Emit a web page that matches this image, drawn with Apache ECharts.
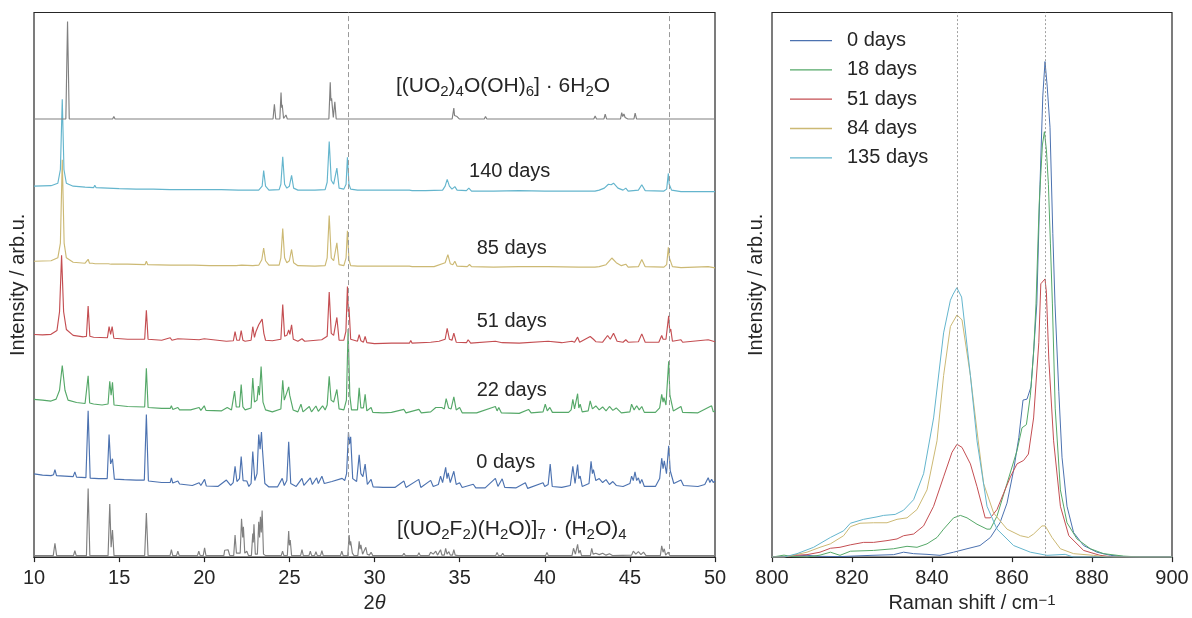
<!DOCTYPE html>
<html>
<head>
<meta charset="utf-8">
<script src="https://cdn.jsdelivr.net/npm/echarts@6/dist/echarts.min.js"></script>
<style>
html,body{margin:0;padding:0;background:#fff;}
#c{width:1192px;height:618px;}
</style>
</head>
<body>
<div id="c"></div>
<script>
// ---------------- DATA ----------------
// XRD: [2theta, intensity (arb., offset)]
const xrdRefUO2F2 = [[10,1.5],[11.13,1.5],[11.23,14],[11.33,1.5],[12.32,1.5],[12.4,6.5],[12.48,1.5],[13.08,1.5],[13.18,70],[13.28,1.5],[14.35,1.5],[14.45,54],[14.53,10],[14.61,27.5],[14.7,1.5],[16.5,1.5],[16.6,45],[16.7,1.5],[17.1,1.5],[17.15,3],[17.2,1.5],[17.99,1.5],[18.07,7.5],[18.15,1.5],[18.37,1.5],[18.45,6],[18.53,1.5],[19.6,1.5],[19.68,6],[19.76,1.5],[19.94,1.5],[20.02,9.5],[20.1,1.5],[21.15,1.5],[21.2,7],[21.3,6],[21.4,7.5],[21.5,1.5],[21.73,1.5],[21.81,22.5],[21.89,4],[22.11,4],[22.19,39],[22.26,20],[22.3,31],[22.38,4],[22.5,6],[22.6,1.5],[22.77,1.5],[22.85,24],[22.88,15],[22.92,33.5],[23.0,3],[23.12,3],[23.2,36],[23.25,20],[23.3,41],[23.35,25],[23.4,47.5],[23.48,3],[23.6,1.5],[24.52,1.5],[24.6,6],[24.68,1.5],[24.88,1.5],[24.96,26.5],[25.0,12],[25.05,17.5],[25.13,1.5],[25.66,1.5],[25.74,7.5],[25.82,1.5],[26.15,1.5],[26.23,6],[26.31,1.5],[26.48,1.5],[26.56,5.5],[26.64,1.5],[26.83,1.5],[26.91,6.5],[26.99,1.5],[27.26,1.5],[27.34,3.5],[27.42,1.5],[28.0,1.5],[28.08,6],[28.16,1.5],[28.43,1.5],[28.51,22.5],[28.56,12],[28.6,16],[28.7,4],[28.8,1.5],[29.02,1.5],[29.1,16],[29.15,8],[29.2,12.5],[29.3,3],[29.4,3],[29.49,10],[29.57,3],[29.7,2],[29.8,5],[29.9,1.5],[30.5,1.5],[31.65,1.5],[31.73,4],[31.81,1.5],[32.53,1.5],[32.61,4.5],[32.69,1.5],[33.2,1.5],[33.3,5],[33.45,3],[33.6,6],[33.7,2],[33.8,2],[33.88,7.5],[33.96,2],[34.1,2],[34.18,9],[34.26,3],[34.37,5.5],[34.45,2],[34.58,2],[34.66,7.5],[34.74,2],[34.9,1.5],[35.0,3.5],[35.1,1.5],[37.12,1.5],[37.2,4.8],[37.28,1.5],[37.45,1.5],[37.53,4],[37.61,1.5],[38.78,1.5],[38.86,3.5],[38.94,1.5],[40.05,1.5],[40.13,4.8],[40.21,1.5],[40.34,1.5],[40.42,3.5],[40.5,1.5],[41.6,1.5],[41.69,9],[41.8,3],[41.93,13],[42.0,4],[42.08,7],[42.16,1.5],[42.68,1.5],[42.76,9],[42.84,3],[43.0,4],[43.2,2.5],[43.4,4],[43.6,2],[43.8,3.5],[44.0,1.5],[45.1,2],[45.2,6],[45.35,3],[45.5,5.5],[45.65,2.5],[45.8,5],[45.95,1.5],[46.79,1.5],[46.87,11.5],[46.95,5],[47.02,8.5],[47.1,2],[47.26,5],[47.34,1.5],[48.5,1.5],[49.62,1.5],[49.7,3.5],[49.78,1.5],[50,1.5]];

const xrd0d = [[10,84.8],[10.5,83.5],[11.0,83],[11.15,84],[11.23,89.2],[11.32,83],[11.8,82.5],[12.3,82],[12.4,86.8],[12.5,81.5],[13.05,81],[13.18,149.2],[13.3,80.5],[13.8,80],[14.3,80],[14.41,124.8],[14.5,95],[14.61,100.2],[14.72,79.5],[15.3,79],[16.0,78.5],[16.48,78.5],[16.6,145.2],[16.72,77.5],[17.5,76],[18.0,76],[18.07,80.8],[18.15,75.5],[18.45,77.5],[18.55,74.5],[19.3,73],[19.7,75.8],[19.8,73],[20.02,79.2],[20.12,72.5],[20.8,72],[21.3,78.5],[21.55,73],[21.7,76],[21.81,92.5],[21.92,77],[22.07,80],[22.17,102.5],[22.28,78],[22.5,77.5],[22.62,72],[22.75,75],[22.85,107.5],[22.97,78],[23.1,85],[23.2,124.8],[23.28,110],[23.36,127.5],[23.41,112],[23.45,110.8],[23.56,75],[23.8,71.5],[24.3,71.5],[24.58,80.2],[24.7,73],[24.85,78],[24.96,117.5],[25.08,75],[25.4,72],[25.74,80.2],[25.85,73],[26.23,80.8],[26.35,74],[26.6,80.8],[26.7,75],[26.91,82.5],[27.05,75],[27.5,77],[28.1,80.2],[28.25,78],[28.36,85],[28.47,127.5],[28.53,115],[28.6,122.5],[28.72,80],[28.95,77],[29.1,104.2],[29.2,85],[29.32,82],[29.45,94.8],[29.58,74],[29.8,79.2],[29.92,71.5],[30.5,71],[31.2,71],[31.73,77.5],[31.85,71],[32.6,79.2],[32.72,71],[33.3,78.2],[33.45,72],[33.75,74],[33.88,82.5],[34.0,76],[34.18,91.5],[34.26,80],[34.33,85.8],[34.45,76],[34.66,87.5],[34.8,74],[35.0,75.8],[35.15,71],[35.8,74.2],[35.95,70.5],[36.5,70.5],[37.1,80.2],[37.25,72],[37.5,79.8],[37.65,71],[38.3,70.5],[38.86,75.8],[39.0,70],[39.9,75.8],[40.0,72],[40.2,74],[40.32,94.8],[40.44,72],[41.0,71],[41.5,73],[41.65,92.5],[41.78,75],[41.93,94.2],[42.0,80],[42.08,82.5],[42.2,72],[42.6,75],[42.72,97.5],[42.8,85],[42.86,89.2],[43.0,78],[43.2,80],[43.4,76],[43.6,79],[43.8,74],[44.0,77],[44.2,73],[44.6,72],[45.0,75],[45.1,82.5],[45.2,78],[45.3,86.8],[45.4,78],[45.5,80.8],[45.6,75],[45.7,79.2],[45.85,72],[46.5,72],[46.75,80],[46.87,100.8],[46.95,90],[47.02,98.2],[47.15,85],[47.28,113.5],[47.37,88],[47.45,87.5],[47.58,75],[48.0,78.5],[48.15,73],[49.0,72],[49.4,74],[49.6,80.8],[49.7,76],[49.8,79.2],[49.9,76],[50,77.5]];

const xrd22d = [[10,160.8],[10.5,160],[11.0,159],[11.3,161],[11.5,170],[11.66,195.2],[11.82,170],[12.0,160],[12.5,157.5],[13.0,156.5],[13.1,158],[13.18,184.8],[13.27,157],[13.5,156],[14.0,155],[14.35,156],[14.45,179.2],[14.53,165],[14.61,178.2],[14.7,155],[15.5,153.5],[16.5,153],[16.6,192.5],[16.7,152.5],[17.5,151.5],[18.0,151.5],[18.07,154.2],[18.15,150.5],[18.45,152.5],[18.55,150],[19.2,150],[19.7,152.5],[19.8,149.5],[20.0,154.2],[20.1,149.5],[21.0,149],[21.35,152.5],[21.6,150],[21.7,152],[21.78,169.2],[21.88,153],[22.07,153],[22.17,175.8],[22.27,153],[22.4,150],[22.75,152],[22.85,182.5],[22.95,158],[23.1,160],[23.18,174.2],[23.24,165],[23.34,194.2],[23.45,158],[23.6,150],[24.0,148],[24.5,151],[24.61,180.2],[24.7,160],[24.96,173.5],[25.02,165],[25.1,164.2],[25.22,150],[25.5,148],[25.68,155.8],[25.8,148],[26.17,153.5],[26.3,148],[26.56,154],[26.7,148.5],[26.95,154.2],[27.1,150],[27.22,155],[27.34,184.2],[27.45,160],[27.6,158],[27.79,170.8],[27.92,151],[28.2,150],[28.35,160],[28.45,232.5],[28.55,165],[28.65,150],[29.0,150],[29.1,172.5],[29.2,152],[29.35,152],[29.45,165.8],[29.55,149],[29.8,152.5],[29.9,147.5],[30.5,147],[31.0,147.5],[31.73,150.5],[31.85,147],[32.61,150.5],[32.75,147],[33.3,148],[33.6,152.5],[33.95,152.5],[34.1,151],[34.21,161.5],[34.35,152],[34.5,151],[34.66,163.2],[34.8,150],[35.0,152.5],[35.15,147],[36,147],[37.1,153.5],[37.2,149],[37.3,152.5],[37.45,147],[38.5,146.5],[39.05,150.5],[39.2,147],[39.9,148],[40.03,155.8],[40.15,149],[40.3,152.5],[40.45,147.5],[41.4,147.5],[41.55,150],[41.65,160.8],[41.75,151],[41.93,166.5],[42.0,152],[42.08,155.8],[42.2,148],[42.55,149],[42.67,159.2],[42.8,151],[43.0,154],[43.2,150],[43.4,153],[43.6,149],[43.8,153.5],[44.0,149.5],[44.2,152],[44.5,147],[45.0,148],[45.1,155.8],[45.25,150],[45.4,154.2],[45.55,150],[45.7,153.5],[45.85,147.5],[46.5,147.5],[46.75,152],[46.87,165.8],[46.95,158],[47.0,162.5],[47.12,155],[47.28,199.5],[47.35,165],[47.42,164.5],[47.55,149],[48.0,153.5],[48.1,147.5],[49.0,147],[49.8,154.2],[49.9,148],[50,149]];

const xrd51d = [[10,226.8],[10.5,226.5],[11.0,227],[11.35,231],[11.5,250],[11.62,307.5],[11.74,250],[11.9,232],[12.3,226],[12.9,224.5],[13.08,225],[13.18,255.8],[13.28,225],[13.5,224],[14.31,223.5],[14.41,234.8],[14.5,227],[14.59,234.8],[14.69,223],[15.5,222],[16.5,222],[16.6,251.5],[16.7,222],[17.5,221],[18.0,223.5],[18.1,221],[18.45,222.5],[18.55,220.5],[19.7,221.5],[20.0,222.5],[20.1,220.5],[21.3,220],[21.71,220.5],[21.81,229.8],[21.91,221],[22.07,221],[22.17,230.8],[22.27,221],[22.4,220],[22.75,221],[22.85,234.8],[22.95,224],[23.04,230],[23.2,236.8],[23.28,235],[23.4,242.5],[23.5,228],[23.6,221],[24.0,220.5],[24.5,222],[24.61,257.5],[24.72,225],[24.85,226],[24.96,231.5],[25.03,227],[25.13,236.8],[25.23,222],[25.5,220],[25.74,222.5],[25.9,220],[26.23,220.5],[26.9,221.5],[27.22,225],[27.34,270.2],[27.46,228],[27.6,226],[27.79,244.2],[27.92,221],[28.2,221],[28.32,230],[28.41,275.8],[28.46,250],[28.5,255],[28.6,222],[29.0,220],[29.1,226.8],[29.2,220.5],[29.35,219],[29.45,224.8],[29.55,218.5],[30,217.5],[31,218],[32.05,218],[32.13,220.8],[32.21,218],[33.3,219],[33.79,220],[34.15,222],[34.27,233.2],[34.4,222],[34.55,221],[34.66,228.2],[34.8,219],[35.4,218.5],[35.5,221.5],[35.65,218],[37.1,220],[37.5,218.5],[38.5,218],[40.2,220],[41,218.5],[41.6,220],[41.65,221],[41.75,219],[41.93,224.2],[42.05,219],[42.67,224.8],[42.86,222],[43,219.5],[43.4,219],[43.69,225.8],[43.85,222],[44.04,228.2],[44.25,220],[44.6,219],[44.76,221.5],[44.9,219],[45.5,219.5],[45.7,227.5],[45.9,219],[46.7,219],[46.87,225.8],[46.95,222],[47.0,223.5],[47.12,222],[47.28,245.8],[47.34,230],[47.4,232.5],[47.5,220],[48,221.5],[48.1,219],[49.6,221.5],[50,219.5]];

const xrd85d = [[10,301.5],[11.0,302],[11.4,305],[11.55,320],[11.66,405],[11.77,320],[11.9,305],[12.3,300.5],[13.0,299.5],[13.1,300],[13.18,303.5],[13.26,299.5],[13.43,299.5],[13.51,301],[13.59,299],[14.37,299],[14.45,300],[14.53,298.5],[15.5,298.5],[16.52,298],[16.6,301.5],[16.68,298],[18,297.5],[18.07,298.5],[18.14,297.5],[19.39,297.5],[19.46,298],[20.3,297],[21.87,297],[22.2,297.5],[22.85,297],[23.2,297.5],[23.38,303],[23.49,315],[23.6,302],[23.8,297.5],[24.4,297.5],[24.5,305],[24.61,334.8],[24.72,305],[24.85,300],[25.0,302],[25.13,313.5],[25.25,300],[25.5,297],[26.5,296.5],[27.1,297],[27.22,305],[27.34,348.2],[27.46,305],[27.6,302],[27.79,320.2],[27.92,298],[28.2,297],[28.33,305],[28.41,332.5],[28.5,303],[28.6,297],[29,296.5],[30,296.5],[31,296.5],[32.05,296.5],[32.13,297.5],[32.21,296],[33.5,296],[34.15,300],[34.31,308.2],[34.45,299],[34.6,298],[34.72,301.5],[34.85,296.5],[35.45,296],[35.58,298.2],[35.7,296],[37,295.5],[38.47,296],[40.2,296],[42,295.5],[42.95,295.5],[43.06,297],[43.2,296],[43.6,298],[43.94,304.8],[44.2,300],[44.5,297],[44.76,298.5],[44.9,295.5],[45.5,296],[45.7,303.2],[45.9,296],[47.0,295.5],[47.16,298],[47.26,315.8],[47.32,305],[47.4,306],[47.5,296],[48,295],[49.6,296],[50,294.8]];

const xrd140d = [[10,378],[11.0,378.5],[11.4,381],[11.55,395],[11.66,466.5],[11.76,395],[11.9,381],[12.3,378],[13.0,377],[13.5,376.5],[13.57,379],[13.65,376.5],[15,375.5],[16,375],[17,375],[18,374.5],[20,374.5],[21,374.5],[22,374],[23.2,374],[23.4,378],[23.49,394],[23.6,378],[23.8,374],[24.4,374.5],[24.5,380],[24.61,408],[24.72,380],[24.85,376],[25.0,378],[25.13,389],[25.25,376],[25.5,374],[26,374],[26.5,374],[27.1,374.5],[27.22,382],[27.34,423.5],[27.46,384],[27.6,380],[27.79,396.5],[27.92,376],[28.2,375],[28.33,380],[28.41,407.5],[28.5,380],[28.6,375],[29.0,374],[30,374],[31,374],[31.1,375.5],[31.2,374],[32.05,374],[32.13,375.5],[32.21,373.5],[33,373.5],[34.0,374],[34.15,378],[34.27,385],[34.4,378],[34.55,375],[34.72,377.5],[34.85,374],[35.4,373.5],[35.54,376],[35.7,373],[37,373],[38.5,373.5],[40,373],[42,373],[42.95,373],[43.06,375],[43.2,374],[43.5,376],[43.74,380],[43.9,379.5],[44.04,381],[44.3,376],[44.6,374],[44.76,376],[44.9,373],[45.5,374],[45.7,379.5],[45.9,373.5],[47.0,373],[47.16,375],[47.26,391],[47.31,380],[47.35,381],[47.45,374],[48,372.5],[49.5,372.5],[49.6,374],[49.7,372.5],[50,372.5]];

const xrdRefSchoepite = [[10,446.5],[11.87,446.5],[11.97,545.8],[12.07,446.5],[14.62,446.5],[14.69,449],[14.76,446.5],[17.2,446.5],[17.28,447.5],[17.36,446.5],[24.04,446.5],[24.12,461.5],[24.2,446.5],[24.44,446.5],[24.51,473.5],[24.55,458],[24.58,461],[24.66,447],[24.74,447],[24.8,450.5],[24.88,446.5],[27.32,446.5],[27.4,484],[27.44,465],[27.48,467.5],[27.58,448],[27.67,464],[27.75,446.5],[30.1,446.5],[30.17,448],[30.24,446.5],[34.56,446.5],[34.66,457.5],[34.7,450],[34.75,451.5],[34.85,449],[34.9,449.5],[34.98,446.5],[36.45,446.5],[36.52,449],[36.6,446.5],[38.4,446.5],[38.47,447.5],[38.54,446.5],[42.88,446.5],[42.96,449.5],[43.04,446.5],[43.48,446.5],[43.55,451.5],[43.63,446.5],[44.45,446.5],[44.52,453],[44.58,449],[44.65,451.5],[44.72,448],[44.8,450],[44.88,446.5],[45.24,446.5],[45.31,452.5],[45.39,446.5],[49.42,446.5],[49.5,448.5],[49.58,446.5],[50,446.5]];

// Raman: [shift cm-1, intensity arb.]
const raman0d = [[800,0],[803,0.5],[808.75,1.8],[812,0.8],[817,0.5],[821,1.2],[825,1.8],[830.4,2.5],[832.9,5],[835.4,3.5],[838.75,2.8],[842,1.8],[845.4,5],[848.75,8.5],[852,11.8],[854.6,20],[857,35],[858.75,55],[860.4,88.5],[861.7,121.8],[862.75,160],[863.75,161],[864.75,173.5],[865.5,215],[866.2,258],[867.0,380],[867.7,470],[868.25,505],[868.8,480],[869.5,438],[870.2,330],[870.75,258],[871.7,168.5],[872.5,101.8],[873.75,51.8],[875.4,25],[877.9,11.8],[881.25,5],[884.6,1.8],[889.6,0],[900,0]];
const raman18d = [[800,0],[803,2],[805,0.5],[808.75,0],[812,2],[814.6,5],[817,1.8],[819.6,6],[825.4,6.8],[830.4,8.5],[833.75,11],[836.25,10],[838.75,13.5],[841.25,20],[842.9,28.5],[845.4,40],[847.1,42.5],[848.75,40],[851.25,33.5],[853.75,28.5],[854.6,28.5],[856.25,41.8],[858.75,75],[861.25,108.5],[862.5,131.8],[863.6,135],[864.6,165],[865.4,208.5],[866.0,258],[866.8,360],[867.6,420],[868.1,433.5],[868.6,415],[869.1,380],[869.6,320],[870.1,258],[870.8,151.8],[872.1,68.5],[873.75,35],[876.25,18.5],[879.6,8.5],[882.9,3.5],[887.9,1],[892.5,0],[900,0]];
const raman51d = [[800,0],[803,0],[805.4,1.8],[808.75,2.5],[812,5],[814.6,9],[817,10],[819.6,12.5],[822.9,15],[825.4,15],[828.75,16.8],[831.25,18.5],[832.9,21.8],[835.4,23.5],[837.9,31.8],[840.4,51.8],[842.9,81.8],[845,106.8],[846.25,115],[847.5,111.8],[849.6,95],[851.25,71.8],[853.3,40],[854.6,40],[856.25,48.5],[857.9,65],[859.6,81.8],[861.25,95],[862.9,98.5],[864.1,105],[865.4,141.8],[866.7,218.5],[867.2,278.5],[868.25,283.5],[868.6,270],[869.2,201.8],[870.4,118.5],[872.1,51.8],[874.2,21.8],[877.9,6.8],[882,1.8],[885.4,0],[900,0]];
const raman84d = [[800,0],[803,0],[805.4,2],[808.75,5],[812,10],[814.6,13.5],[817.9,21.8],[819.6,31],[822,34.5],[825.4,35],[828.75,35],[831.25,38.5],[833.75,40],[836.25,48.5],[838.75,68.5],[841.25,118.5],[842.9,185],[844.6,235],[846.25,246.8],[847.5,241.8],[849.6,185],[851.25,128.5],[852.9,75],[855.4,45],[858.75,28.5],[862.1,21.8],[864.1,20],[865.4,23.5],[867.5,31.8],[868.3,31.8],[870,20],[872.1,8.5],[875.4,3.5],[880.4,1.8],[883.75,0],[900,0]];
const raman135d = [[800,0],[803,0],[806.25,3.5],[810.4,10],[814.6,20],[817.9,26.8],[819.6,34.5],[822.9,38.5],[826.25,41],[827.9,42.5],[830.8,43.5],[832.9,47.8],[835.4,58.5],[837.9,85],[840.4,141.8],[842.9,228.5],[844.6,261.8],[845.3,268],[846.2,274.5],[847.4,265],[849.6,185],[851.25,118.5],[853.75,51.8],[856.25,28.5],[860.4,11.8],[864.6,5],[868.75,1.8],[873.3,2.8],[875.4,0],[900,0]];

const ramanNames = ['0 days','18 days','51 days','84 days','135 days'];
const siLines = [28.43, 47.30];
const ramanLines = [846.2, 868.2];

// annotation texts and their anchors in data coordinates [2theta, intensity]
const annotTexts = [
  '{f|[(UO}{s|2}{f|)}{s|4}{f|O(OH)}{s|6}{f|] · 6H}{s|2}{f|O}',
  '{n|140 days}', '{n|85 days}', '{n|51 days}', '{n|22 days}', '{n|0 days}',
  '{f|[(UO}{s|2}{f|F}{s|2}{f|)(H}{s|2}{f|O)]}{s|7}{f| · (H}{s|2}{f|O)}{s|4}'
];
const annotAnchors = [[37.55,479.5],[37.94,393],[38.06,314.7],[38.06,239.7],[38.06,170],[37.71,96.3],[38.06,28.5]];

// ---------------- CHART ----------------
const FONT = '"Liberation Sans", Arial, Helvetica, sans-serif';
const TXT = '#262626';
const chart = echarts.init(document.getElementById('c'), null, {renderer: 'canvas'});

const C = {grey:'#808080', blue:'#4C72B0', green:'#55A868', red:'#C44E52', tan:'#CCB974', cyan:'#64B5CD'};

function lineSeries(name, data, color, axis, width, extra) {
  return Object.assign({
    name: name, type: 'line', xAxisIndex: axis, yAxisIndex: axis, data: data,
    showSymbol: false, symbol: 'none', silent: true, animation: false,
    lineStyle: {color: color, width: width}, itemStyle: {color: color}
  }, extra || {});
}

const richStyles = {
  n: {fontSize: 20, lineHeight: 26, fontFamily: FONT, color: TXT, opacity: 1},
  f: {fontSize: 21, lineHeight: 26, fontFamily: FONT, color: TXT, opacity: 1},
  s: {fontSize: 15, lineHeight: 15, fontFamily: FONT, color: TXT, opacity: 1, verticalAlign: 'bottom'}
};

const option = {
  backgroundColor: '#ffffff',
  animation: false,
  textStyle: {fontFamily: FONT, color: TXT},
  grid: [
    {left: 34, top: 12.5, width: 681, height: 555, show: true, borderColor: TXT, borderWidth: 1.2},
    {left: 772, top: 12.5, width: 400, height: 555, show: true, borderColor: TXT, borderWidth: 1.2}
  ],
  legend: {
    data: ramanNames.map(n => ({name: n, icon: 'rect'})),
    orient: 'vertical', left: 785, top: 25.6, itemGap: 9.3,
    itemWidth: 42, itemHeight: 1.3, selectedMode: false,
    textStyle: {fontSize: 20, lineHeight: 20, color: TXT, fontFamily: FONT, padding: [0,0,0,10]}
  },
  xAxis: [
    {gridIndex: 0, type: 'value', min: 10, max: 50, interval: 5,
     name: '2{i|θ}', nameLocation: 'middle', nameGap: 31,
     nameTextStyle: {fontSize: 20, color: TXT, fontFamily: FONT, rich: {i: {fontSize: 20, fontStyle: 'italic', color: TXT, fontFamily: FONT}}},
     axisLine: {show: true, lineStyle: {color: TXT, width: 1.2}},
     axisTick: {show: true, inside: false, length: 5, lineStyle: {color: TXT, width: 1.2}},
     axisLabel: {fontSize: 20, color: TXT, margin: 11, fontFamily: FONT},
     splitLine: {show: false}},
    {gridIndex: 1, type: 'value', min: 800, max: 900, interval: 20,
     name: 'Raman shift / cm{sup|−1}', nameLocation: 'middle', nameGap: 31,
     nameTextStyle: {fontSize: 20, color: TXT, fontFamily: FONT, rich: {sup: {fontSize: 15, lineHeight: 15, verticalAlign: 'top', color: TXT, fontFamily: FONT}}},
     axisLine: {show: true, lineStyle: {color: TXT, width: 1.2}},
     axisTick: {show: true, inside: false, length: 5, lineStyle: {color: TXT, width: 1.2}},
     axisLabel: {fontSize: 20, color: TXT, margin: 11, fontFamily: FONT},
     splitLine: {show: false}}
  ],
  yAxis: [0, 1].map(i => ({
     gridIndex: i, type: 'value', min: 0, max: 555,
     name: 'Intensity / arb.u.', nameLocation: 'middle', nameGap: 6, nameRotate: 90,
     nameTextStyle: {fontSize: 20, color: TXT, fontFamily: FONT},
     axisLine: {show: false}, axisTick: {show: false}, axisLabel: {show: false}, splitLine: {show: false}})),
  series: [
    lineSeries('XRD ref UO2F2', xrdRefUO2F2, C.grey, 0, 1.15, {
      markLine: {silent: true, symbol: ['none','none'], label: {show: false},
        lineStyle: {type: [5,3], color: '#9a9a9a', width: 1},
        data: siLines.map(v => ({xAxis: v}))}
    }),
    lineSeries('XRD 0 days', xrd0d, C.blue, 0, 1.15),
    lineSeries('XRD 22 days', xrd22d, C.green, 0, 1.15),
    lineSeries('XRD 51 days', xrd51d, C.red, 0, 1.15),
    lineSeries('XRD 85 days', xrd85d, C.tan, 0, 1.15),
    lineSeries('XRD 140 days', xrd140d, C.cyan, 0, 1.15),
    lineSeries('XRD ref schoepite', xrdRefSchoepite, C.grey, 0, 1.15),
    {
      name: 'annotations', type: 'scatter', xAxisIndex: 0, yAxisIndex: 0, silent: true,
      symbolSize: 0, itemStyle: {color: TXT, opacity: 1},
      emphasis: {disabled: true},
      data: annotAnchors.map((p, i) => ({value: p, label: {formatter: annotTexts[i]}})),
      label: {show: true, position: 'inside', color: TXT, opacity: 1, textBorderWidth: 0, rich: richStyles}
    },
    lineSeries(ramanNames[0], raman0d, C.blue, 1, 1, {
      markLine: {silent: true, symbol: ['none','none'], label: {show: false},
        lineStyle: {type: [2,2], color: '#8a8a8a', width: 0.8},
        data: ramanLines.map(v => ({xAxis: v}))}
    }),
    lineSeries(ramanNames[1], raman18d, C.green, 1, 1),
    lineSeries(ramanNames[2], raman51d, C.red, 1, 1),
    lineSeries(ramanNames[3], raman84d, C.tan, 1, 1),
    lineSeries(ramanNames[4], raman135d, C.cyan, 1, 1)
  ]
};
chart.setOption(option);
</script>
</body>
</html>
